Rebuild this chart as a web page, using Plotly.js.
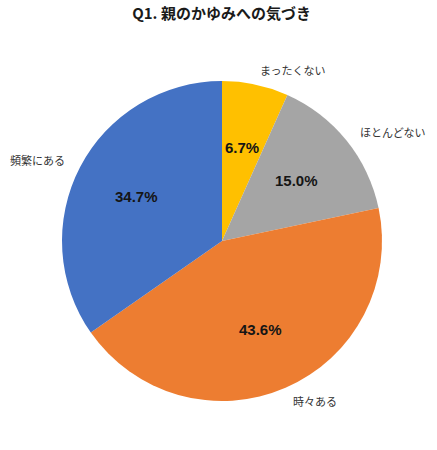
<!DOCTYPE html>
<html>
<head>
<meta charset="utf-8">
<script src="https://cdn.plot.ly/plotly-3.0.1.min.js"></script>
<style>
  body { margin: 0; background: #fff; }
  #chart { width: 437px; height: 450px; }
</style>
</head>
<body>
<div id="chart"></div>
<script>
// data, clockwise from 12 o'clock
var labels = ['まったくない', 'ほとんどない', '時々ある', '頻繁にある'];
var values = [6.7, 15.0, 43.6, 34.7];
var colors = ['#FFC000', '#A5A5A5', '#ED7D31', '#4472C4'];

var W = 437, H = 450;
var cx = 222, cy = 241, r = 160;   // pie centre / radius in px

var jp = '"Noto Sans CJK JP", "Noto Sans", sans-serif';
var num = '"Liberation Sans", Arial, sans-serif';

var trace = {
    type: 'pie',
    values: values,
    labels: labels,
    sort: false,
    direction: 'clockwise',
    rotation: 0,
    textposition: 'none',
    hoverinfo: 'none',
    showlegend: false,
    marker: { colors: colors, line: { width: 0 } },
    domain: {
        x: [(cx - r) / W, (cx + r) / W],
        y: [1 - (cy + r) / H, 1 - (cy - r) / H]
    }
};

// labels placed from slice angles
var total = 0;
for (var i = 0; i < values.length; i++) total += values[i];
var annotations = [];
var cum = 0;
for (var i = 0; i < values.length; i++) {
    var mid = (cum + values[i] / 2) / total * 2 * Math.PI;
    cum += values[i];
    var sx = Math.sin(mid), sy = Math.cos(mid);
    // percentage inside
    annotations.push({
        x: (cx + sx * r * 0.6) / W,
        y: 1 - (cy - sy * r * 0.6) / H,
        xref: 'paper', yref: 'paper',
        xanchor: 'center', yanchor: 'middle',
        text: '<b>' + values[i].toFixed(1) + '%</b>',
        showarrow: false,
        font: { family: num, size: 15, color: '#151515' }
    });
    // category outside
    annotations.push({
        x: (cx + sx * r * 1.09) / W,
        y: 1 - (cy - sy * r * 1.09) / H,
        xref: 'paper', yref: 'paper',
        xanchor: sx >= 0 ? 'left' : 'right',
        yanchor: 'middle',
        text: labels[i],
        showarrow: false,
        font: { family: jp, size: 11, color: '#333333' }
    });
}

var layout = {
    width: W,
    height: H,
    margin: { l: 0, r: 0, t: 0, b: 0 },
    paper_bgcolor: '#ffffff',
    title: {
        text: '<b>Q1. 親のかゆみへの気づき</b>',
        x: 0.507, xanchor: 'center',
        y: 1 - 14 / H, yanchor: 'middle',
        font: { family: jp, size: 15, color: '#1a1a1a' }
    },
    annotations: annotations
};

Plotly.newPlot('chart', [trace], layout, { displayModeBar: false, staticPlot: true });
</script>
</body>
</html>
